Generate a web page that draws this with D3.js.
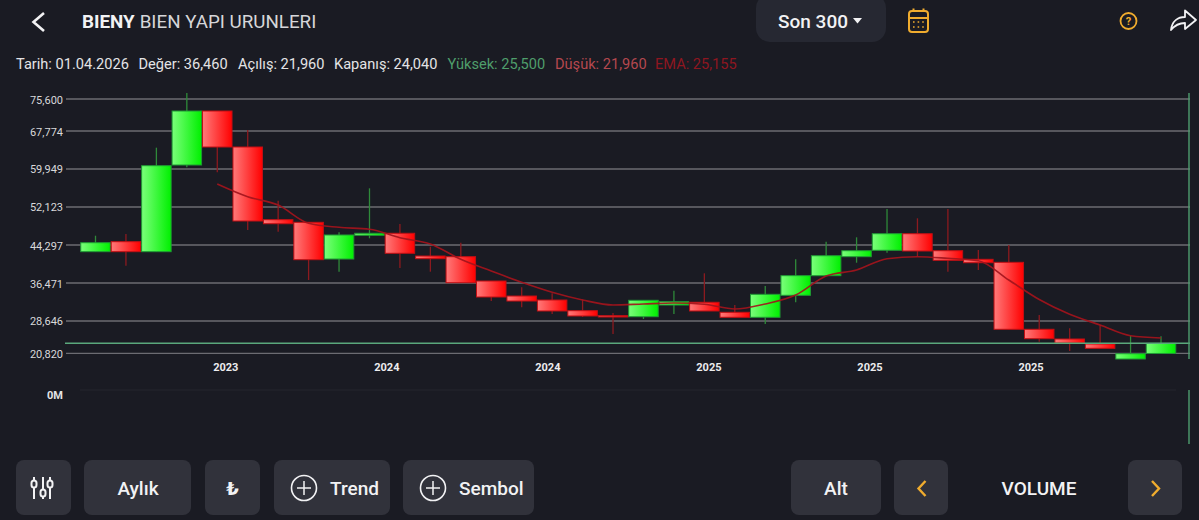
<!DOCTYPE html>
<html lang="en">
<head>
  <meta charset="UTF-8">
  <title>BIENY</title>
  <script src="https://d3js.org/d3.v7.min.js"></script>
  <style>
    html, body { margin: 0; padding: 0; background: #1a1b23; overflow: hidden; }
    svg { display: block; font-family: Roboto, sans-serif; }
  </style>
</head>
<body>
  <svg id="chart" width="1199" height="520"></svg>

  <script>
    const opens  = [42920,44980,42920,60770,71890,64480,49510,48970,41410,46300,46710,42030,41890,36880,33790,32970,30770,29740,29530,31940,32500,30440,29410,33940,37980,41890,43210,46620,43120,41350,40730,26940,24940,23910,20820,21960];
    const closes = [44770,42920,60630,71890,64480,49240,48680,41270,46360,46710,42590,41480,36530,33590,32760,30710,29680,29470,32910,32620,30710,29410,34140,37980,42090,43120,46620,43060,41150,40650,26940,25000,24120,23020,21910,24040];
    const highs  = [46210,46560,64340,75600,71890,67980,53420,48970,46910,55970,48620,43950,44770,36880,35590,34350,33110,30290,32910,34890,38470,31940,35850,41350,44980,45880,51710,49800,51710,43270,44300,29880,27140,27820,25620,25500];
    const lows   = [42920,40030,42920,60300,59270,47390,47040,37090,38800,45680,39560,38800,36530,32760,31470,30090,29470,25970,29060,30090,30710,29410,28030,32500,37980,40650,42710,41890,38800,39150,26940,24380,22470,23020,20820,21960];
    // EMA starts at the fifth candle
    const emaStart = 4;
    const ema = [56860,54240,52530,48770,47940,47530,45800,44500,41350,38940,36620,34560,32970,31940,32150,32350,32090,31120,32150,34000,37910,39150,41480,41890,41560,41060,37090,33070,30030,27820,25620,25155];

    const priceTicks = [75600,67774,59949,52123,44297,36471,28646,20820];
    const timeLabels = ["2023","2024","2024","2025","2025","2025"];
    const timeIndex = [4.28,9.57,14.86,20.15,25.44,30.73];
    const lastClose = 24040;

    const infoParts = [
      ["Tarih: 01.04.2026", 16, "#e4e4e6"],
      ["Değer: 36,460", 138.5, "#e4e4e6"],
      ["Açılış: 21,960", 238, "#e4e4e6"],
      ["Kapanış: 24,040", 334, "#e4e4e6"],
      ["Yüksek: 25,500", 447.5, "#4f9e6b"],
      ["Düşük: 21,960", 555, "#b5484f"],
      ["EMA: 25,155", 655, "#8e1620"]
    ];

    const svg = d3.select("#chart");
    const defs = svg.append("defs");

    function gradient(id, from, to) {
      const g = defs.append("linearGradient").attr("id", id);
      g.append("stop").attr("offset", "0%").attr("stop-color", from);
      g.append("stop").attr("offset", "100%").attr("stop-color", to);
    }
    gradient("redBody", "#ff7a7a", "#ff0000");
    gradient("greenBody", "#7aff7a", "#00f000");

    const x = d3.scaleLinear().domain([0, 35]).range([95.5, 1161]);
    const y = d3.scaleLinear().domain([20820, 75600]).range([359, 93]);
    const bodyW = 29.5;

    // top and bottom gridlines sit a bit inside the plot, labels with them
    const gridY = v => Math.min(353.4, Math.max(99, y(v)));

    svg.append("g").selectAll("line")
      .data(priceTicks)
      .join("line")
      .attr("x1", 66).attr("x2", 1190)
      .attr("y1", gridY).attr("y2", gridY)
      .attr("stroke", "#6c6c72").attr("stroke-width", 1.3);

    svg.append("g").selectAll("text")
      .data(priceTicks)
      .join("text")
      .attr("x", 63)
      .attr("y", d => gridY(d) + 4.5)
      .attr("text-anchor", "end")
      .attr("font-size", 11)
      .attr("fill", "#d8d8da")
      .text(d => d3.format(",")(d));

    const candles = d3.range(opens.length);
    const up = i => closes[i] >= opens[i];

    svg.append("g").selectAll("line")
      .data(candles)
      .join("line")
      .attr("x1", x).attr("x2", x)
      .attr("y1", i => y(highs[i]))
      .attr("y2", i => y(lows[i]))
      .attr("stroke", i => up(i) ? "#2f8a3a" : "#8c1a1f")
      .attr("stroke-width", 1.3);

    svg.append("g").selectAll("rect")
      .data(candles)
      .join("rect")
      .attr("x", i => x(i) - bodyW / 2)
      .attr("width", bodyW)
      .attr("y", i => y(Math.max(opens[i], closes[i])))
      .attr("height", i => Math.abs(y(opens[i]) - y(closes[i])))
      .attr("fill", i => up(i) ? "url(#greenBody)" : "url(#redBody)")
      .attr("stroke", i => up(i) ? "#1f9a34" : "#c20f14")
      .attr("stroke-width", 1);

    const emaLine = d3.line().x((d, i) => x(i + emaStart)).y(d => y(d)).curve(d3.curveMonotoneX);
    svg.append("path")
      .attr("d", emaLine(ema))
      .attr("fill", "none")
      .attr("stroke", "#a3141c")
      .attr("stroke-opacity", 0.92)
      .attr("stroke-width", 1.6);

    // last close line and right edge
    svg.append("line")
      .attr("x1", 65).attr("x2", 1190)
      .attr("y1", y(lastClose)).attr("y2", y(lastClose))
      .attr("stroke", "#5aa87c").attr("stroke-width", 1.5);
    svg.append("line")
      .attr("x1", 1189).attr("x2", 1189)
      .attr("y1", 93).attr("y2", 359)
      .attr("stroke", "#4f9e70").attr("stroke-width", 1.4);
    svg.append("line")
      .attr("x1", 1189).attr("x2", 1189)
      .attr("y1", 390).attr("y2", 444)
      .attr("stroke", "#4f9e70").attr("stroke-width", 1.4);

    svg.append("g").selectAll("text")
      .data(timeLabels)
      .join("text")
      .attr("x", (d, i) => x(timeIndex[i]))
      .attr("y", 371)
      .attr("text-anchor", "middle")
      .attr("font-size", 11)
      .attr("font-weight", 700)
      .attr("fill", "#ececee")
      .text(d => d);

    // volume pane
    svg.append("line")
      .attr("x1", 80).attr("x2", 1176)
      .attr("y1", 390).attr("y2", 390)
      .attr("stroke", "#25262e");
    svg.append("text")
      .attr("x", 63).attr("y", 399)
      .attr("text-anchor", "end")
      .attr("font-size", 11)
      .attr("font-weight", 700)
      .attr("fill", "#e4e4e6")
      .text("0M");

    // header
    const white = "#f2f2f4";
    svg.append("path")
      .attr("d", "M44 13 L33.5 22 L44 31")
      .attr("fill", "none").attr("stroke", white).attr("stroke-width", 2.6);
    const title = svg.append("text").attr("x", 82).attr("y", 28).attr("font-size", 18.8).attr("fill", "#d6d6d9");
    title.append("tspan").attr("font-weight", 700).attr("fill", white).text("BIENY");
    title.append("tspan").attr("dx", 5).text("BIEN YAPI URUNLERI");

    svg.selectAll(".info")
      .data(infoParts)
      .join("text")
      .attr("class", "info")
      .attr("x", d => d[1]).attr("y", 69)
      .attr("font-size", 14.6)
      .attr("fill", d => d[2])
      .text(d => d[0]);

    svg.append("rect").attr("x", 756).attr("y", -6).attr("width", 130).attr("height", 48).attr("rx", 14).attr("fill", "#262832");
    svg.append("text").attr("x", 778).attr("y", 28).attr("font-size", 19).attr("font-weight", 500).attr("fill", white).text("Son 300");
    svg.append("path").attr("d", "M853 18 h9 l-4.5 5.5 z").attr("fill", white);

    const amber = "#f0ac2e";
    const cal = svg.append("g").attr("fill", "none").attr("stroke", amber).attr("stroke-width", 2);
    cal.append("rect").attr("x", 909).attr("y", 11).attr("width", 19).attr("height", 21).attr("rx", 3);
    cal.append("path").attr("d", "M909 18 H928 M913.5 8.5 V12 M923.5 8.5 V12");
    cal.append("path").attr("stroke-dasharray", "1.6 3").attr("d", "M913 22 H925 M913 27 H925").attr("stroke-width", 1.6);

    svg.append("circle").attr("cx", 1128.5).attr("cy", 21).attr("r", 8).attr("fill", "none").attr("stroke", amber).attr("stroke-width", 1.8);
    svg.append("text").attr("x", 1128.5).attr("y", 25).attr("text-anchor", "middle").attr("font-size", 11).attr("font-weight", 700).attr("fill", amber).text("?");
    svg.append("path")
      .attr("d", "M1171 30 C1172 21 1178 17 1185 17 V10.5 L1196 20 L1185 29 V23 C1179 23 1175 25 1171 30 Z")
      .attr("fill", "none").attr("stroke", white).attr("stroke-width", 1.8).attr("stroke-linejoin", "round");

    // bottom buttons
    const buttons = [[16,55],[84,107],[205,55],[274,116],[403,131],[791,90],[894,54],[1128,54]];
    svg.append("g").selectAll("rect")
      .data(buttons)
      .join("rect")
      .attr("x", d => d[0]).attr("y", 460)
      .attr("width", d => d[1]).attr("height", 55)
      .attr("rx", 8)
      .attr("fill", "#31323b");

    const btnLabels = [["Aylık",138,"middle"],["Trend",330,"start"],["Sembol",459,"start"],["Alt",836,"middle"],["VOLUME",1039,"middle"]];
    svg.append("g").selectAll("text")
      .data(btnLabels)
      .join("text")
      .attr("x", d => d[1]).attr("y", 495)
      .attr("text-anchor", d => d[2])
      .attr("font-size", 19)
      .attr("font-weight", 500)
      .attr("fill", white)
      .text(d => d[0]);
    svg.append("text").attr("x", 232.5).attr("y", 495).attr("text-anchor", "middle").attr("font-size", 18).attr("font-weight", 700)
      .attr("font-family", "DejaVu Sans").attr("fill", white).text("₺");

    [304, 433].forEach(cx => {
      svg.append("circle").attr("cx", cx).attr("cy", 488).attr("r", 12.5).attr("fill", "none").attr("stroke", white).attr("stroke-width", 1.6);
      svg.append("path").attr("d", `M${cx - 7} 488 H${cx + 7} M${cx} 481 V495`).attr("stroke", white).attr("stroke-width", 1.5);
    });

    // sliders icon
    const sliders = svg.append("g").attr("stroke", white).attr("stroke-width", 2).attr("fill", "#31323b");
    [[34,484],[43,493],[50,484]].forEach(([sx, knob]) => {
      sliders.append("line").attr("x1", sx).attr("x2", sx).attr("y1", 477).attr("y2", 499);
      sliders.append("rect").attr("x", sx - 2.5).attr("y", knob - 3.5).attr("width", 5).attr("height", 7).attr("rx", 2.5);
    });

    svg.append("path").attr("d", "M925.5 481 L918.5 488.5 L925.5 496").attr("fill", "none").attr("stroke", amber).attr("stroke-width", 2.4);
    svg.append("path").attr("d", "M1152 481 L1159 488.5 L1152 496").attr("fill", "none").attr("stroke", amber).attr("stroke-width", 2.4);
  </script>
</body>
</html>
